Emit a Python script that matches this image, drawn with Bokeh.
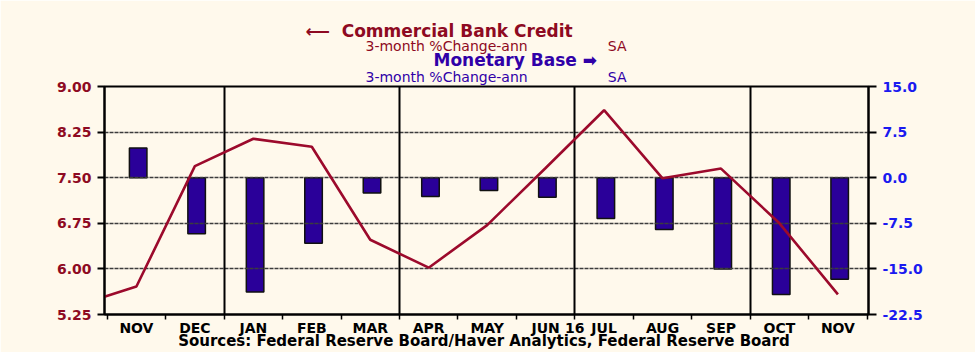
from bokeh.plotting import figure
from bokeh.models import (Range1d, LinearAxis, FixedTicker, NumeralTickFormatter,
                          Title, ColumnDataSource)
from bokeh.embed import file_html
from bokeh.resources import INLINE

# ---------------- data ----------------
months = ["NOV", "DEC", "JAN", "FEB", "MAR", "APR", "MAY", "JUN", "JUL", "AUG", "SEP", "OCT", "NOV"]
# commercial bank credit, 3-month % change ann. (first value = OCT 2015, partly off-chart)
credit_months = ["OCT"] + months
credit = [5.40, 5.71, 7.69, 8.14, 8.01, 6.48, 6.02, 6.72, 7.66, 8.61, 7.49, 7.65, 6.75, 5.58]
# monetary base, 3-month % change ann.
base = [4.9, -9.2, -18.8, -10.8, -2.5, -3.1, -2.1, -3.2, -6.7, -8.5, -15.0, -19.2, -16.7]
left_ticks = [5.25, 6.00, 6.75, 7.50, 8.25, 9.00]
right_ticks = [-22.5, -15.0, -7.5, 0.0, 7.5, 15.0]
quarter_starts = [2, 5, 8, 11]
year_label = "16"
sources = "Sources:  Federal Reserve Board/Haver Analytics, Federal Reserve Board"
credit_title = "Commercial Bank Credit"
base_title = "Monetary Base"
subtitle = "3-month %Change-ann"
sa = "SA"

# ---------------- styling ----------------
BG = "#FFF9EC"
RED = "#9C0A2C"
RED_TXT = "#8E0A22"
BLUE = "#2A0099"
BLUE_TXT = "#1A1AF0"
TITLE_BLUE = "#3000A8"
FONT = "DejaVu Sans"
NB = "\u00a0"

W, H = 975, 352
FL, FR, FT, FB = 104, 868, 86, 315
X0, X1 = -0.046, 13.023
YL0, YL1 = 5.25, 9.00

p = figure(width=W, height=H, output_backend="svg", toolbar_location=None, title=None,
           x_range=Range1d(X0, X1), y_range=Range1d(YL0, YL1),
           min_border_left=FL, min_border_right=W - FR,
           min_border_top=FT, min_border_bottom=H - FB)
p.extra_y_ranges = {"mb": Range1d(right_ticks[0], right_ticks[-1])}
p.background_fill_color = BG
p.border_fill_color = BG
p.outline_line_color = "black"
p.outline_line_width = 2
p.grid.visible = False

# x axis: month names centred in each month, ticks on month boundaries, "16" at the year break
centers = [i + 0.5 for i in range(len(months))]
bounds = list(range(len(months) + 1))
xa = p.xaxis[0]
xa.ticker = FixedTicker(ticks=centers + [8], minor_ticks=bounds)
overrides = {c: m for c, m in zip(centers, months)}
overrides[8] = year_label
xa.major_label_overrides = overrides
xa.major_tick_in = 0
xa.major_tick_out = 0
xa.minor_tick_in = 0
xa.minor_tick_out = 5
xa.minor_tick_line_color = "black"
xa.minor_tick_line_width = 1.5
xa.axis_line_width = 2
xa.major_label_standoff = 0
xa.major_label_text_font = FONT
xa.major_label_text_font_style = "bold"
xa.major_label_text_font_size = "14px"
xa.major_label_text_color = "black"
xa.axis_label = sources
xa.axis_label_standoff = -7
xa.axis_label_text_font = FONT
xa.axis_label_text_font_style = "bold"
xa.axis_label_text_font_size = "15px"
xa.axis_label_text_color = "black"

# left axis
ya = p.yaxis[0]
ya.ticker = FixedTicker(ticks=left_ticks)
ya.formatter = NumeralTickFormatter(format="0.00")
ya.major_tick_out = 7
ya.major_tick_in = 0
ya.minor_tick_line_color = None
ya.axis_line_width = 2
ya.major_tick_line_width = 2
ya.major_label_standoff = 6
ya.major_label_text_font = FONT
ya.major_label_text_font_style = "bold"
ya.major_label_text_font_size = "14px"
ya.major_label_text_color = RED_TXT

# right axis
ra = LinearAxis(y_range_name="mb", ticker=FixedTicker(ticks=right_ticks),
                formatter=NumeralTickFormatter(format="0.0"))
ra.major_tick_out = 8
ra.major_tick_in = 0
ra.minor_tick_line_color = None
ra.axis_line_width = 2
ra.major_tick_line_width = 2
ra.major_label_standoff = 6
ra.major_label_text_font = FONT
ra.major_label_text_font_style = "bold"
ra.major_label_text_font_size = "14px"
ra.major_label_text_color = BLUE_TXT
p.add_layout(ra, "right")

# bars
bar_src = ColumnDataSource(dict(x=[c + 0.03 for c in centers], top=base, month=months))
p.vbar(x="x", top="top", bottom=0, width=0.3, source=bar_src, y_range_name="mb",
       fill_color=BLUE, line_color="#111111", line_width=1.5)

# dashed grid lines over bars
p.hspan(y=left_ticks[1:-1], line_color="#3c3c3c", line_width=1.6, line_dash="4 1")
# quarter separators
p.vspan(x=quarter_starts, line_color="black", line_width=2)

# credit line (OCT 2015 sits half a month left of the first NOV)
line_x = [-0.5] + centers
line_src = ColumnDataSource(dict(x=line_x, y=credit, month=credit_months))
p.line(x="x", y="y", source=line_src, line_color=RED, line_width=2.6)


# ---------------- titles (first added sits closest to the frame) ----------------
def title(txt, px, color, size, bold, standoff):
    p.add_layout(Title(text=txt, align="left", offset=px - FL, text_color=color,
                       text_font=FONT, text_font_size=size,
                       text_font_style="bold" if bold else "normal",
                       standoff=standoff), "above")


title(subtitle + NB * 18 + sa, 365, TITLE_BLUE, "14px", False, 3)
title(base_title + NB + "\u27a1", 433, TITLE_BLUE, "17px", True, -9)
title(subtitle + NB * 18 + sa, 365, RED_TXT, "14px", False, -2)
title("\u27f5" + NB * 2 + credit_title, 305, RED_TXT, "17px", True, -8)

open("out.html", "w").write(file_html(p, INLINE))
